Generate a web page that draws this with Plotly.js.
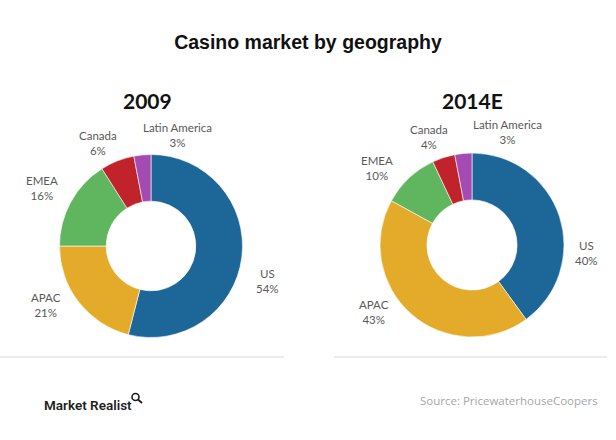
<!DOCTYPE html>
<html>
<head>
<meta charset="utf-8">
<script src="https://cdn.plot.ly/plotly-3.0.1.min.js"></script>
<style>html,body{margin:0;padding:0;background:#fff;}#chart{width:616px;height:440px;}</style>
</head>
<body>
<div id="chart"></div>
<script>
// ---- data ----
var regions = ["US", "APAC", "EMEA", "Canada", "Latin America"];
var share2009 = [54, 21, 16, 6, 3];
var share2014 = [40, 43, 10, 4, 3];
var panelTitles = ["2009", "2014E"];
var colors = ["#1c6698", "#e4ab2b", "#5fb65e", "#c1232b", "#a34bb3"];

// ---- layout helpers ----
var W = 616, H = 440;
function px(x) { return x / W; }
function py(y) { return 1 - y / H; }

// pie geometry (pixel centres / radius)
var pies = [
  {cx: 151, cy: 246, r: 91.5},
  {cx: 472, cy: 245, r: 92}
];
function dom(p) {
  return {x: [px(p.cx - p.r), px(p.cx + p.r)], y: [py(p.cy + p.r), py(p.cy - p.r)]};
}

var traces = [share2009, share2014].map(function (vals, i) {
  return {
    type: "pie",
    labels: regions,
    values: vals,
    hole: 0.49,
    sort: false,
    direction: "clockwise",
    rotation: 0,
    textinfo: "none",
    hoverinfo: "label+percent",
    marker: {colors: colors, line: {color: "#ffffff", width: 0.6}},
    domain: dom(pies[i]),
    showlegend: false
  };
});

// label positions (pixel) for each region, per panel
var labelPos = [
  [[267, 281], [46, 305], [42, 188], [98, 143], [177, 135]],
  [[586, 253], [374, 312], [377, 168], [429, 137], [507, 132]]
];
var labelFont = {family: "Lato, 'Open Sans', sans-serif", size: 11.5, color: "#595959"};

var annotations = [];
[share2009, share2014].forEach(function (vals, i) {
  regions.forEach(function (name, j) {
    annotations.push({
      xref: "paper", yref: "paper",
      x: px(labelPos[i][j][0]), y: py(labelPos[i][j][1]),
      xanchor: "center", yanchor: "middle",
      text: name + "<br>" + vals[j] + "%",
      showarrow: false, align: "center",
      font: labelFont
    });
  });
});
// panel titles
[[147, 100], [472, 100]].forEach(function (p, i) {
  annotations.push({
    xref: "paper", yref: "paper", x: px(p[0]), y: py(p[1]),
    xanchor: "center", yanchor: "middle", showarrow: false,
    text: "<b>" + panelTitles[i] + "</b>",
    font: {family: "Lato, sans-serif", size: 21, color: "#111"}
  });
});
// footer
annotations.push({
  xref: "paper", yref: "paper", x: px(42), y: py(405),
  xanchor: "left", yanchor: "middle", showarrow: false,
  text: "Market Realist",
  font: {family: "Roboto, 'Open Sans', sans-serif", size: 13.5, weight: 600, color: "#1e1e1e"}
});
annotations.push({
  xref: "paper", yref: "paper", x: px(600), y: py(400),
  xanchor: "right", yanchor: "middle", showarrow: false,
  text: "Source: PricewaterhouseCoopers",
  font: {family: "'Open Sans', sans-serif", size: 11.5, color: "#a6a6a6"}
});

var layout = {
  width: W, height: H,
  margin: {l: 0, r: 0, t: 0, b: 0},
  paper_bgcolor: "#ffffff",
  title: {
    text: "<b>Casino market by geography</b>",
    x: 0.5, xanchor: "center",
    y: py(42), yanchor: "middle",
    font: {family: "'Liberation Sans', Arial, sans-serif", size: 19.5, color: "#111"}
  },
  annotations: annotations,
  shapes: [
    {type: "line", xref: "paper", yref: "paper", x0: 0, x1: px(284), y0: py(357), y1: py(357), line: {color: "#ececec", width: 2}},
    {type: "line", xref: "paper", yref: "paper", x0: px(334), x1: px(607), y0: py(357), y1: py(357), line: {color: "#ececec", width: 2}},
    // magnifier logo mark
    {type: "circle", xref: "paper", yref: "paper", x0: px(132), x1: px(139), y0: py(400.5), y1: py(393.5), line: {color: "#1e1e1e", width: 1.6}},
    {type: "line", xref: "paper", yref: "paper", x0: px(138), x1: px(142), y0: py(399.5), y1: py(403), line: {color: "#1e1e1e", width: 1.8}}
  ]
};

Plotly.newPlot("chart", traces, layout, {displayModeBar: false, staticPlot: true});
</script>
</body>
</html>
